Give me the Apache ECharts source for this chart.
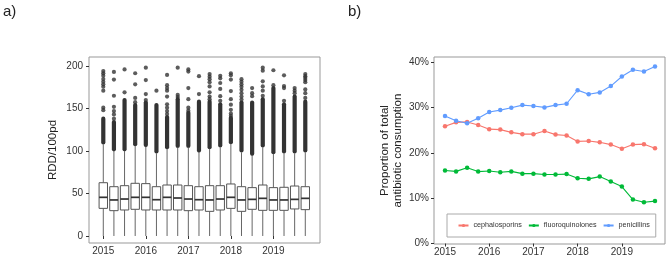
<!DOCTYPE html>
<html>
<head>
<meta charset="utf-8">
<script src="https://cdn.jsdelivr.net/npm/echarts@6/dist/echarts.min.js"></script>
<style>
  html, body { margin: 0; padding: 0; background: #fff; }
  #chart { width: 669px; height: 259px; }
</style>
</head>
<body>
<div id="chart"></div>
<script>
// quarterly time points, 2015 Q1 .. 2019 Q4
const quarters = [2015.00, 2015.25, 2015.50, 2015.75, 2016.00, 2016.25, 2016.50, 2016.75,
                  2017.00, 2017.25, 2017.50, 2017.75, 2018.00, 2018.25, 2018.50, 2018.75,
                  2019.00, 2019.25, 2019.50, 2019.75];
const yearTicks = [2015, 2016, 2017, 2018, 2019];
const rddTicks = [0, 50, 100, 150, 200];
const pctTicks = [0, 10, 20, 30, 40];

// panel a: boxplot of RDD/100pd per quarter
const whiskerLo = [0, 0, 0, 0, 0, 0, 0, 0, 0, 0, 0, 0, 0, 0, 0, 0, 0, 0, 0, 0];
const boxQ1 = [32.5, 29.8, 30.6, 31.4, 30.6, 30.6, 30.6, 30.6, 29.8, 30.6,
               29.0, 30.6, 32.5, 29.0, 31.4, 30.2, 30.2, 30.2, 31.8, 31.0];
const boxMed = [45.5, 42.4, 43.5, 45.5, 45.5, 42.7, 45.5, 44.7, 43.5, 42.7,
                42.4, 43.5, 45.5, 42.4, 43.1, 44.3, 42.4, 42.4, 43.1, 44.3];
const boxQ3 = [62.7, 58.0, 59.2, 62.0, 61.6, 58.0, 60.0, 60.0, 59.2, 58.0,
               59.2, 59.2, 61.2, 58.0, 56.9, 60.0, 56.9, 57.3, 58.8, 58.0];
const whiskerHi = [108, 100, 100, 106, 105, 97.5, 102.5, 104, 104, 98.5,
                   102.5, 104.5, 108.4, 98.6, 94.7, 104.5, 96.6, 97.4, 97.4, 98.6];
// stretches where outliers overlap into a solid column
const outlierRuns = [[110, 138], [102, 134], [102, 160], [108, 154], [107, 157],
                     [99.5, 154], [104.5, 140], [106, 161], [106, 145], [100.5, 158],
                     [104.5, 158], [106.5, 155], [110.4, 139], [100.6, 157], [96.7, 157],
                     [106.5, 161], [98.6, 174], [99.4, 155], [99.4, 164], [100.6, 158]];
// single outliers above the solid columns
const outlierDots = [
  [194, 191.4, 188.6, 184.7, 181.5, 178.4, 175.6, 171, 151, 148],
  [193, 184, 165, 152, 147, 143, 138],
  [196, 169],
  [191.5, 178.5, 162.5, 157.5],
  [198, 183.5, 167, 160],
  [171],
  [189.5, 177.5, 174, 171, 164, 155, 151, 147, 143.5],
  [198, 166, 163.5],
  [196, 193.5, 174, 161, 151, 147.5],
  [188, 167],
  [190.5, 187.5, 184.5, 181, 176, 169, 164, 161],
  [188.5, 185.5, 180, 173, 164.5, 159],
  [191.5, 189, 184, 170.5, 161, 154.5, 148.5, 144, 141.5],
  [184.5, 181.5, 178.5, 175.5, 172, 168, 164, 160.5],
  [174, 168, 164.5],
  [198, 194.5, 182, 176, 171, 165],
  [195, 177.5],
  [189, 176.5, 174, 159],
  [174, 171, 168],
  [190.5, 188, 186, 183.5, 181, 172.5, 168, 162.5]
];

// panel b: share of total antibiotic consumption (%)
const cephalosporins = [25.85, 26.7, 26.8, 26.1, 25.2, 25.1, 24.5, 24.1, 24.1, 24.8,
                        24.0, 23.8, 22.5, 22.6, 22.3, 21.8, 20.9, 21.8, 21.9, 21.0];
const fluoroquinolones = [16.1, 15.9, 16.7, 15.85, 16.0, 15.7, 15.9, 15.4, 15.4, 15.2,
                          15.2, 15.3, 14.4, 14.25, 14.75, 13.65, 12.55, 9.7, 9.1, 9.35];
const penicillins = [28.1, 27.05, 26.5, 27.6, 29.0, 29.4, 29.9, 30.5, 30.3, 30.0,
                     30.5, 30.8, 33.8, 32.9, 33.3, 34.7, 36.8, 38.3, 37.9, 39.0];

const chart = echarts.init(document.getElementById('chart'));

const boxRows = quarters.map((q, i) => [q, whiskerLo[i], boxQ1[i], boxMed[i], boxQ3[i], whiskerHi[i]]);
const runRows = quarters.map((q, i) => [q, outlierRuns[i][0], outlierRuns[i][1]]);
const dotRows = [];
outlierDots.forEach((vals, i) => vals.forEach(v => dotRows.push([quarters[i], v])));

const BOX_HALF = 4.2;
const INK = '#333';
const LINE = '#555';

function renderBox(params, api) {
  const x = api.value(0);
  const lo = api.coord([x, api.value(1)]);
  const q1 = api.coord([x, api.value(2)]);
  const med = api.coord([x, api.value(3)]);
  const q3 = api.coord([x, api.value(4)]);
  const hi = api.coord([x, api.value(5)]);
  return {
    type: 'group',
    children: [
      { type: 'line', shape: { x1: lo[0], y1: lo[1], x2: q1[0], y2: q1[1] }, style: { stroke: '#666', lineWidth: 1 } },
      { type: 'line', shape: { x1: q3[0], y1: q3[1], x2: hi[0], y2: hi[1] }, style: { stroke: '#666', lineWidth: 1 } },
      { type: 'rect', shape: { x: q3[0] - BOX_HALF, y: q3[1], width: BOX_HALF * 2, height: q1[1] - q3[1] },
        style: { fill: '#fff', stroke: LINE, lineWidth: 1 } },
      { type: 'line', shape: { x1: med[0] - BOX_HALF, y1: med[1], x2: med[0] + BOX_HALF, y2: med[1] },
        style: { stroke: INK, lineWidth: 1.7 } }
    ]
  };
}

function renderRun(params, api) {
  const x = api.value(0);
  const a = api.coord([x, api.value(1)]);
  const b = api.coord([x, api.value(2)]);
  return {
    type: 'line',
    shape: { x1: a[0], y1: a[1], x2: b[0], y2: b[1] },
    style: { stroke: INK, lineWidth: 4.2, lineCap: 'round' }
  };
}

const tickLabel = { fontSize: 10, color: INK };
const axisTick = { length: 3, lineStyle: { color: INK, width: 1 } };

const option = {
  animation: false,
  textStyle: { fontFamily: 'Liberation Sans, Arial, sans-serif' },
  title: [
    { text: 'a)', left: 3, top: 4, padding: 0, textStyle: { fontSize: 15, fontWeight: 'normal', color: '#222' } },
    { text: 'b)', left: 348, top: 4, padding: 0, textStyle: { fontSize: 15, fontWeight: 'normal', color: '#222' } }
  ],
  grid: [
    { left: 89, top: 57, width: 231, height: 186, show: true, borderColor: '#999', borderWidth: 1, backgroundColor: '#fff' },
    { left: 434, top: 57, width: 231, height: 187, show: true, borderColor: '#999', borderWidth: 1, backgroundColor: '#fff' }
  ],
  xAxis: [
    {
      type: 'value', gridIndex: 0, min: 2014.664, max: 2020.096,
      axisLine: { show: false }, splitLine: { show: false },
      axisTick: Object.assign({ customValues: yearTicks }, axisTick),
      axisLabel: Object.assign({ customValues: yearTicks, margin: 3, formatter: v => String(v) }, tickLabel)
    },
    {
      type: 'value', gridIndex: 1, min: 2014.751, max: 2019.976,
      axisLine: { show: false }, splitLine: { show: false },
      axisTick: Object.assign({ customValues: yearTicks }, axisTick),
      axisLabel: Object.assign({ customValues: yearTicks, margin: 3, formatter: v => String(v) }, tickLabel)
    }
  ],
  yAxis: [
    {
      type: 'value', gridIndex: 0, min: -8.24, max: 210.6,
      axisLine: { show: false }, splitLine: { show: false },
      axisTick: Object.assign({ customValues: rddTicks }, axisTick),
      axisLabel: Object.assign({ customValues: rddTicks, margin: 6, formatter: v => String(v) }, tickLabel),
      name: 'RDD/100pd', nameLocation: 'middle', nameRotate: 90, nameGap: 30,
      nameTextStyle: { fontSize: 11.5, color: '#222' }
    },
    {
      type: 'value', gridIndex: 1, min: -0.1, max: 41.1,
      axisLine: { show: false }, splitLine: { show: false },
      axisTick: Object.assign({ customValues: pctTicks }, axisTick),
      axisLabel: Object.assign({ customValues: pctTicks, margin: 5, formatter: v => v + '%' }, tickLabel),
      name: 'Proportion of total\nantibiotic consumption', nameLocation: 'middle', nameRotate: 90, nameGap: 30,
      nameTextStyle: { fontSize: 11.5, color: '#222', lineHeight: 13, align: 'center' }
    }
  ],
  legend: {
    data: ['cephalosporins', 'fluoroquinolones', 'penicillins'],
    left: 447, top: 214,
    itemWidth: 10, itemHeight: 4, itemGap: 6,
    padding: [7, 6, 7, 10.5],
    borderColor: '#aaa', borderWidth: 1, backgroundColor: '#fff',
    textStyle: { fontSize: 7.2, color: INK, lineHeight: 9 }
  },
  series: [
    {
      type: 'custom', xAxisIndex: 0, yAxisIndex: 0,
      renderItem: renderRun, data: runRows, encode: { x: 0, y: [1, 2] }, z: 2
    },
    {
      type: 'scatter', xAxisIndex: 0, yAxisIndex: 0,
      data: dotRows, symbol: 'circle', symbolSize: 4.2,
      itemStyle: { color: INK }, z: 2
    },
    {
      type: 'custom', xAxisIndex: 0, yAxisIndex: 0,
      renderItem: renderBox, data: boxRows, encode: { x: 0, y: [1, 2, 3, 4, 5] }, z: 3
    },
    {
      name: 'cephalosporins', type: 'line', xAxisIndex: 1, yAxisIndex: 1,
      data: quarters.map((q, i) => [q, cephalosporins[i]]),
      symbol: 'circle', symbolSize: 4.5,
      lineStyle: { width: 1.1, color: '#F8766D' }, itemStyle: { color: '#F8766D' }
    },
    {
      name: 'fluoroquinolones', type: 'line', xAxisIndex: 1, yAxisIndex: 1,
      data: quarters.map((q, i) => [q, fluoroquinolones[i]]),
      symbol: 'circle', symbolSize: 4.5,
      lineStyle: { width: 1.1, color: '#00BA38' }, itemStyle: { color: '#00BA38' }
    },
    {
      name: 'penicillins', type: 'line', xAxisIndex: 1, yAxisIndex: 1,
      data: quarters.map((q, i) => [q, penicillins[i]]),
      symbol: 'circle', symbolSize: 4.5,
      lineStyle: { width: 1.1, color: '#619CFF' }, itemStyle: { color: '#619CFF' }
    }
  ]
};

chart.setOption(option);
</script>
</body>
</html>
